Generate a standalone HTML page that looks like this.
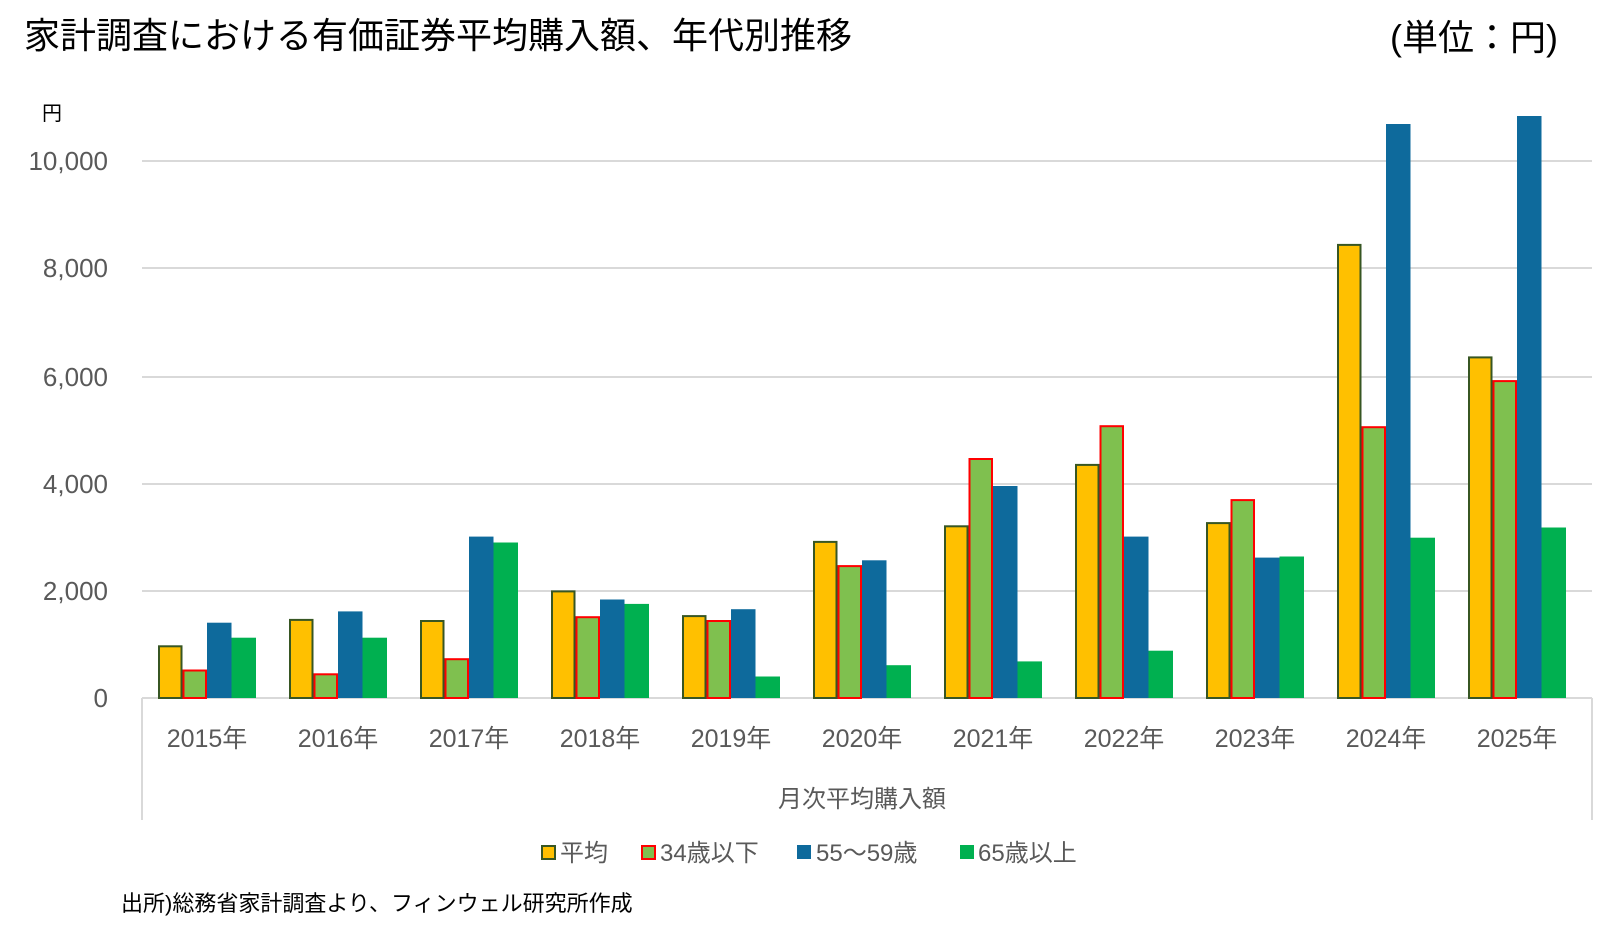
<!DOCTYPE html>
<html><head><meta charset="utf-8"><style>
body{margin:0;background:#fff;}
svg text{font-family:"Liberation Sans","Noto Sans CJK JP",sans-serif;}
</style></head><body>
<svg width="1606" height="932" xmlns="http://www.w3.org/2000/svg">
<rect width="1606" height="932" fill="#fff"/>
<text x="24" y="48" font-size="36" fill="#000">家計調査における有価証券平均購入額、年代別推移</text>
<text x="1558" y="50" font-size="36" fill="#000" text-anchor="end">(単位：円)</text>
<text x="42" y="120" font-size="20" fill="#000">円</text>
<g stroke="#d9d9d9" stroke-width="2">
<line x1="142" y1="161" x2="1592" y2="161"/>
<line x1="142" y1="268" x2="1592" y2="268"/>
<line x1="142" y1="377" x2="1592" y2="377"/>
<line x1="142" y1="484" x2="1592" y2="484"/>
<line x1="142" y1="591" x2="1592" y2="591"/>
<line x1="142" y1="698" x2="1592" y2="698"/>
<line x1="142" y1="698" x2="142" y2="820"/>
<line x1="1592" y1="698" x2="1592" y2="820"/>
</g>
<g font-size="26" fill="#595959" text-anchor="end">
<text x="108" y="170">10,000</text>
<text x="108" y="277">8,000</text>
<text x="108" y="386">6,000</text>
<text x="108" y="493">4,000</text>
<text x="108" y="600">2,000</text>
<text x="108" y="707">0</text>
</g>
<g stroke-width="2">
<rect x="159" y="646.3" width="22.5" height="51.7" fill="#FFC000" stroke="#375623"/>
<rect x="183.5" y="670.5" width="22.5" height="27.5" fill="#7FC04F" stroke="#FF0000"/>
<rect x="207" y="622.7" width="24.5" height="75.3" fill="#0E6A9C"/>
<rect x="231.5" y="637.7" width="24.5" height="60.3" fill="#00B050"/>
<rect x="290" y="619.9" width="22.5" height="78.1" fill="#FFC000" stroke="#375623"/>
<rect x="314.5" y="674.3" width="22.5" height="23.7" fill="#7FC04F" stroke="#FF0000"/>
<rect x="338" y="611.4" width="24.5" height="86.6" fill="#0E6A9C"/>
<rect x="362.5" y="637.7" width="24.5" height="60.3" fill="#00B050"/>
<rect x="421" y="621" width="22.5" height="77" fill="#FFC000" stroke="#375623"/>
<rect x="445.5" y="659.2" width="22.5" height="38.8" fill="#7FC04F" stroke="#FF0000"/>
<rect x="469" y="536.6" width="24.5" height="161.4" fill="#0E6A9C"/>
<rect x="493.5" y="542.5" width="24.5" height="155.5" fill="#00B050"/>
<rect x="552" y="591.4" width="22.5" height="106.6" fill="#FFC000" stroke="#375623"/>
<rect x="576.5" y="617.2" width="22.5" height="80.8" fill="#7FC04F" stroke="#FF0000"/>
<rect x="600" y="599.5" width="24.5" height="98.5" fill="#0E6A9C"/>
<rect x="624.5" y="603.9" width="24.5" height="94.1" fill="#00B050"/>
<rect x="683" y="616.1" width="22.5" height="81.9" fill="#FFC000" stroke="#375623"/>
<rect x="707.5" y="621" width="22.5" height="77" fill="#7FC04F" stroke="#FF0000"/>
<rect x="731" y="609.2" width="24.5" height="88.8" fill="#0E6A9C"/>
<rect x="755.5" y="676.5" width="24.5" height="21.5" fill="#00B050"/>
<rect x="814" y="541.9" width="22.5" height="156.1" fill="#FFC000" stroke="#375623"/>
<rect x="838.5" y="566.1" width="22.5" height="131.9" fill="#7FC04F" stroke="#FF0000"/>
<rect x="862" y="560.3" width="24.5" height="137.7" fill="#0E6A9C"/>
<rect x="886.5" y="665.2" width="24.5" height="32.8" fill="#00B050"/>
<rect x="945" y="526.3" width="22.5" height="171.7" fill="#FFC000" stroke="#375623"/>
<rect x="969.5" y="459" width="22.5" height="239" fill="#7FC04F" stroke="#FF0000"/>
<rect x="993" y="486" width="24.5" height="212" fill="#0E6A9C"/>
<rect x="1017.5" y="661.4" width="24.5" height="36.6" fill="#00B050"/>
<rect x="1076" y="464.9" width="22.5" height="233.1" fill="#FFC000" stroke="#375623"/>
<rect x="1100.5" y="426.2" width="22.5" height="271.8" fill="#7FC04F" stroke="#FF0000"/>
<rect x="1124" y="536.6" width="24.5" height="161.4" fill="#0E6A9C"/>
<rect x="1148.5" y="650.7" width="24.5" height="47.3" fill="#00B050"/>
<rect x="1207" y="523.1" width="22.5" height="174.9" fill="#FFC000" stroke="#375623"/>
<rect x="1231.5" y="500.1" width="22.5" height="197.9" fill="#7FC04F" stroke="#FF0000"/>
<rect x="1255" y="557.6" width="24.5" height="140.4" fill="#0E6A9C"/>
<rect x="1279.5" y="556.5" width="24.5" height="141.5" fill="#00B050"/>
<rect x="1338" y="244.9" width="22.5" height="453.1" fill="#FFC000" stroke="#375623"/>
<rect x="1362.5" y="427.2" width="22.5" height="270.8" fill="#7FC04F" stroke="#FF0000"/>
<rect x="1386" y="124" width="24.5" height="574" fill="#0E6A9C"/>
<rect x="1410.5" y="537.7" width="24.5" height="160.3" fill="#00B050"/>
<rect x="1469" y="357.4" width="22.5" height="340.6" fill="#FFC000" stroke="#375623"/>
<rect x="1493.5" y="381.1" width="22.5" height="316.9" fill="#7FC04F" stroke="#FF0000"/>
<rect x="1517" y="116" width="24.5" height="582" fill="#0E6A9C"/>
<rect x="1541.5" y="527.5" width="24.5" height="170.5" fill="#00B050"/>
</g>
<g font-size="25" fill="#595959" text-anchor="middle">
<text x="207" y="747">2015年</text>
<text x="338" y="747">2016年</text>
<text x="469" y="747">2017年</text>
<text x="600" y="747">2018年</text>
<text x="731" y="747">2019年</text>
<text x="862" y="747">2020年</text>
<text x="993" y="747">2021年</text>
<text x="1124" y="747">2022年</text>
<text x="1255" y="747">2023年</text>
<text x="1386" y="747">2024年</text>
<text x="1517" y="747">2025年</text>
</g>
<text x="862" y="807" font-size="24" fill="#595959" text-anchor="middle">月次平均購入額</text>
<g font-size="24" fill="#595959">
<rect x="542" y="846" width="13" height="13" fill="#FFC000" stroke="#375623" stroke-width="2"/>
<text x="560" y="861">平均</text>
<rect x="642" y="846" width="13" height="13" fill="#7FC04F" stroke="#FF0000" stroke-width="2"/>
<text x="660" y="861">34歳以下</text>
<rect x="797" y="845" width="14" height="14" fill="#0E6A9C"/>
<text x="816" y="861">55～59歳</text>
<rect x="960" y="845" width="14" height="14" fill="#00B050"/>
<text x="978" y="861">65歳以上</text>
</g>
<text x="121" y="911" font-size="22" fill="#000">出所)総務省家計調査より、フィンウェル研究所作成</text>
</svg>
</body></html>
